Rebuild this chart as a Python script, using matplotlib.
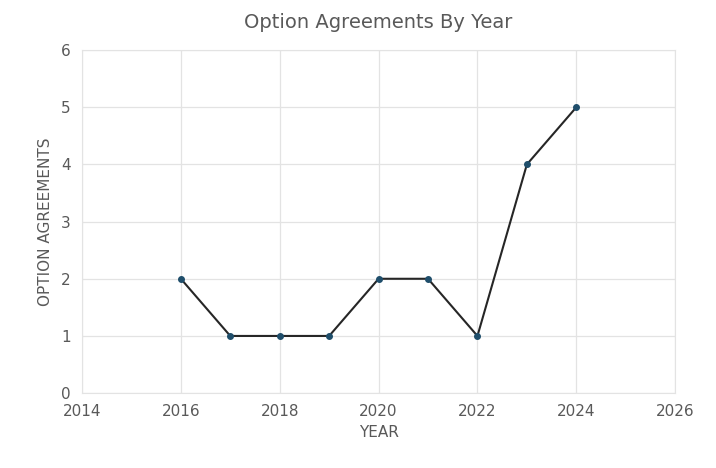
import matplotlib.pyplot as plt

years = [2016, 2017, 2018, 2019, 2020, 2021, 2022, 2023, 2024]
agreements = [2, 1, 1, 1, 2, 2, 1, 4, 5]

fig = plt.figure(figsize=(7.16, 4.68), dpi=100)
ax = fig.add_axes([0.1145, 0.160, 0.8285, 0.733])

ax.plot(years, agreements, color='#262626', lw=1.5, marker='o', markersize=4,
        markerfacecolor='#1f4e6b', markeredgecolor='#1f4e6b', zorder=3)

ax.set_xlim(2014, 2026)
ax.set_ylim(0, 6)
ax.set_xticks(range(2014, 2027, 2))
ax.set_yticks(range(0, 7))
ax.grid(True, color='#e3e3e3', lw=0.9)
for s in ax.spines.values():
    s.set_color('#e3e3e3')
ax.tick_params(length=0, labelsize=11, colors='#595959', pad=8)

ax.set_title('Option Agreements By Year', fontsize=14, color='#595959', pad=16)
ax.set_xlabel('YEAR', fontsize=11, color='#595959', labelpad=4)
ax.set_ylabel('OPTION AGREEMENTS', fontsize=11, color='#595959', labelpad=6)

fig.savefig('out.png', dpi=100)
